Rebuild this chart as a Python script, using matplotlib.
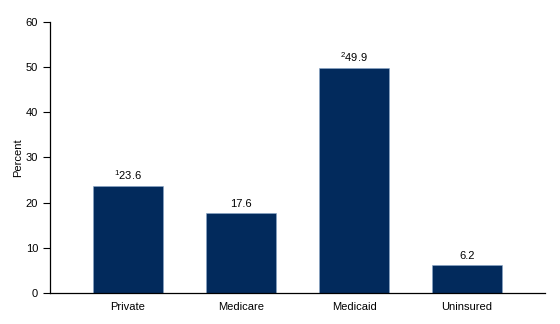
import matplotlib
matplotlib.use("Agg")
import matplotlib.pyplot as plt

plt.rcParams["font.family"] = ["Liberation Sans", "DejaVu Sans"]
plt.rcParams["mathtext.fontset"] = "custom"
plt.rcParams["mathtext.rm"] = "Liberation Sans"
plt.rcParams["mathtext.it"] = "Liberation Sans"

categories = ["Private", "Medicare", "Medicaid", "Uninsured"]
values = [23.6, 17.6, 49.9, 6.2]
notes = ["1", "", "2", ""]

fig = plt.figure(figsize=(5.6, 3.24), dpi=100)
ax = fig.add_axes([0.0893, 0.0966, 0.884, 0.835])
x = range(len(categories))
bars = ax.bar(x, values, width=0.62, color="#022a5c", edgecolor="#8aa6c8", linewidth=0.4)

for b, v, n in zip(bars, values, notes):
    lab = (r"$^{\mathrm{%s}}$" % n if n else "") + f"{v:.1f}"
    ax.text(b.get_x() + b.get_width() / 2, v + 0.9, lab, ha="center", va="bottom", fontsize=8)

ax.set_xlim(-0.69, 3.69)
ax.set_ylim(0, 60)
ax.set_yticks(range(0, 61, 10))
ax.set_xticks(list(x))
ax.set_xticklabels(categories, fontsize=8)
ax.tick_params(axis="x", length=0, pad=7)
ax.tick_params(axis="y", labelsize=8, length=5, width=0.8, direction="out")
ax.set_ylabel("Percent", fontsize=8, labelpad=2)
for s in ["top", "right"]:
    ax.spines[s].set_visible(False)
for s in ["left", "bottom"]:
    ax.spines[s].set_linewidth(0.9)

fig.savefig("out.png", dpi=100)
